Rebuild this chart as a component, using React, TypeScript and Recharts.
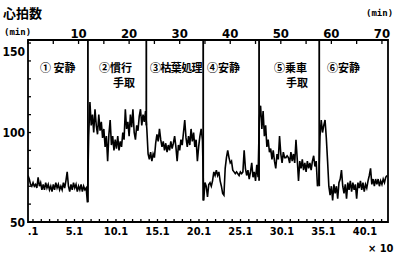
import React from 'react';
import { LineChart, Line, XAxis, YAxis, ReferenceLine, ReferenceArea } from 'recharts';

// heart rate samples, one every 0.25 min, per work section
const SAMPLE_STEP_MIN = 0.25;
const rest1HR = [76, 74, 71, 70, 72, 70, 71, 69, 75, 70, 72, 68, 71, 68, 72, 69, 71, 68, 70, 67, 71, 68, 72, 69, 71, 68, 70, 68, 72, 69, 73, 78, 70, 67, 71, 68, 72, 69, 71, 67, 70, 68, 71, 67, 70, 68, 69, 61];
const handPickHR = [98, 117, 104, 110, 100, 113, 104, 99, 110, 101, 106, 97, 102, 92, 98, 84, 99, 107, 93, 98, 90, 96, 91, 98, 90, 95, 92, 100, 96, 113, 102, 106, 98, 110, 103, 113, 100, 96, 104, 101, 109, 113, 104, 110, 106, 112];
const leafHR = [102, 88, 85, 89, 84, 88, 86, 94, 99, 95, 102, 96, 92, 95, 90, 94, 89, 93, 90, 95, 91, 94, 98, 92, 84, 93, 90, 96, 93, 100, 107, 97, 92, 98, 93, 102, 95, 100, 92, 96, 84, 92, 98, 102, 96];
const rest2HR = [62, 72, 70, 64, 71, 72, 70, 73, 78, 76, 79, 76, 78, 73, 70, 66, 65, 80, 86, 90, 86, 83, 84, 79, 78, 77, 78, 77, 76, 78, 77, 78, 90, 80, 76, 79, 74, 78, 83, 75, 78, 73, 82, 75];
const ridePickHR = [108, 115, 102, 112, 98, 104, 92, 96, 89, 91, 85, 90, 84, 80, 88, 85, 98, 88, 83, 89, 86, 86, 87, 86, 83, 89, 84, 88, 83, 96, 85, 73, 84, 80, 85, 79, 83, 78, 84, 80, 83, 79, 84, 87, 81, 84, 70];
const rest3HR = [72, 98, 107, 100, 104, 107, 97, 84, 70, 65, 70, 62, 71, 66, 70, 63, 72, 74, 79, 70, 66, 71, 63, 72, 68, 73, 67, 72, 68, 71, 63, 72, 69, 73, 68, 72, 67, 71, 69, 73, 76, 80, 71, 74, 70, 74, 71, 74, 70, 73, 71, 74, 72, 75, 76];

// section boundaries (min) and where the divider meets the trace (bpm)
const sectionBounds = [11.85, 23.4, 34.65, 45.7, 57.6];
const sectionBoundLow = [61, 104, 62, 73, 70];

// axes
const topTicks = [0, 5, 10, 15, 20, 25, 30, 35, 40, 45, 50, 55, 60, 65, 70];
const topLabels = [10, 20, 30, 40, 50, 60, 70];
const bottomTicks = [0.1, 1.1, 2.1, 3.1, 4.1, 5.1, 6.1, 7.1, 8.1, 9.1, 10.1, 11.1, 12.1, 13.1, 14.1, 15.1, 16.1, 17.1, 18.1, 19.1, 20.1, 21.1, 22.1, 23.1, 24.1, 25.1, 26.1, 27.1, 28.1, 29.1, 30.1, 31.1, 32.1, 33.1, 34.1, 35.1, 36.1, 37.1, 38.1, 39.1, 40.1, 41.1, 42.1];
const bottomLabels = ['.1', '5.1', '10.1', '15.1', '20.1', '25.1', '30.1', '35.1', '40.1'];
const yTicks = [50, 60, 70, 80, 90, 100, 110, 120, 130, 140, 150];
const yLabels = [50, 100, 150];

const heartRate = [...rest1HR, ...handPickHR, ...leafHR, ...rest2HR, ...ridePickHR, ...rest3HR];
const data = heartRate.map((hr, i) => ({ t: i * SAMPLE_STEP_MIN, hr }));

const TOP_DOMAIN: [number, number] = [0, 71.2];
const BOTTOM_DOMAIN: [number, number] = [-0.5, 42.87];
const Y_DOMAIN: [number, number] = [50, 151.7];

const PLOT_TOP = 40;
const PLOT_BOTTOM = 222;
const PLOT_LEFT = 28;

const numFont = "'Liberation Sans Narrow', 'DejaVu Sans Condensed', 'Liberation Sans', sans-serif";
const cjkFont = "'Noto Sans CJK JP', 'Noto Sans CJK SC', sans-serif";

const TopTick = (props: any) => {
  const { x, payload } = props;
  const v = payload.value;
  const show = topLabels.includes(v);
  return (
    <g>
      <line x1={x} y1={PLOT_TOP} x2={x} y2={PLOT_TOP + 4} stroke="#000" strokeWidth={1.3} />
      {show && (
        <text x={x} y={38} textAnchor="middle" fontSize={13} fontWeight="bold" fontFamily={numFont} fill="#000">
          {String(v)}
        </text>
      )}
    </g>
  );
};

const BottomTick = (props: any) => {
  const { x, payload } = props;
  const v = Number(payload.value);
  const idx = bottomTicks.indexOf(v);
  const label = idx % 5 === 0 ? bottomLabels[idx / 5] : '';
  return (
    <g>
      <line x1={x} y1={PLOT_BOTTOM} x2={x} y2={PLOT_BOTTOM - 3} stroke="#000" strokeWidth={1.3} />
      {label && (
        <text x={x} y={235} textAnchor="middle" fontSize={11} fontWeight="bold" fontFamily={numFont} fill="#000">
          {label}
        </text>
      )}
    </g>
  );
};

const LeftTick = (props: any) => {
  const { y, payload } = props;
  const v = payload.value;
  const show = yLabels.includes(v);
  return (
    <g>
      <line x1={PLOT_LEFT} y1={y} x2={PLOT_LEFT + 3} y2={y} stroke="#000" strokeWidth={1.3} />
      {show && (
        <text x={25} y={v === 150 ? y + 13 : y + 4.5} textAnchor="end" fontSize={12} fontWeight="bold" fontFamily={numFont} fill="#000">
          {String(v)}
        </text>
      )}
    </g>
  );
};

const labelStyle: React.CSSProperties = {
  position: 'absolute',
  fontFamily: cjkFont,
  fontWeight: 700,
  fontSize: 11,
  lineHeight: '11px',
  whiteSpace: 'nowrap',
  color: '#000',
};

const sectionLabels = [
  { text: '① 安静', left: 40, top: 62 },
  { text: '②慣行', left: 99, top: 62 },
  { text: '手取', left: 113, top: 77 },
  { text: '③枯葉処理', left: 150, top: 62, spacing: -0.6 },
  { text: '④安静', left: 207, top: 62 },
  { text: '⑤乗車', left: 274, top: 62 },
  { text: '手取', left: 286, top: 77 },
  { text: '⑥安静', left: 327, top: 62 },
];

export default function App() {
  return (
    <div style={{ position: 'absolute', left: 0, top: 0, width: 397, height: 255, background: '#fff' }}>
      <LineChart width={397} height={255} data={data} margin={{ top: 20, right: 9, bottom: 13, left: 0 }}>
        <XAxis
          xAxisId="top"
          orientation="top"
          dataKey="t"
          type="number"
          domain={TOP_DOMAIN}
          allowDataOverflow
          ticks={topTicks}
          interval={0}
          height={20}
          axisLine={false}
          tickLine={false}
          tick={<TopTick />}
        />
        <XAxis
          xAxisId="bottom"
          orientation="bottom"
          dataKey="t"
          type="number"
          domain={BOTTOM_DOMAIN}
          allowDataOverflow
          ticks={bottomTicks}
          interval={0}
          height={20}
          axisLine={false}
          tickLine={false}
          tick={<BottomTick />}
        />
        <YAxis
          yAxisId="hr"
          type="number"
          domain={Y_DOMAIN}
          allowDataOverflow
          ticks={yTicks}
          interval={0}
          width={28}
          axisLine={false}
          tickLine={false}
          tick={<LeftTick />}
        />
        <ReferenceArea
          xAxisId="top"
          yAxisId="hr"
          x1={TOP_DOMAIN[0]}
          x2={TOP_DOMAIN[1]}
          y1={Y_DOMAIN[0]}
          y2={Y_DOMAIN[1]}
          fill="none"
          fillOpacity={0}
          stroke="#000"
          strokeWidth={1.8}
          ifOverflow="visible"
        />
        {sectionBounds.map((b, i) => (
          <ReferenceLine
            key={i}
            xAxisId="top"
            yAxisId="hr"
            segment={[{ x: b, y: sectionBoundLow[i] }, { x: b, y: Y_DOMAIN[1] }]}
            stroke="#000"
            strokeWidth={1.8}
            ifOverflow="visible"
          />
        ))}
        <Line
          xAxisId="top"
          yAxisId="hr"
          dataKey="hr"
          type="linear"
          stroke="#000"
          strokeWidth={1.6}
          dot={false}
          isAnimationActive={false}
        />
      </LineChart>
      <div style={{ ...labelStyle, left: 3, top: 6, fontSize: 13, lineHeight: '13px' }}>心拍数</div>
      <div style={{ ...labelStyle, left: 4, top: 27, fontSize: 9, lineHeight: '10px', fontFamily: "'DejaVu Sans Mono', monospace" }}>(min)</div>
      <div style={{ ...labelStyle, left: 366, top: 8, fontSize: 9, lineHeight: '10px', fontFamily: "'DejaVu Sans Mono', monospace" }}>(min)</div>
      <div style={{ ...labelStyle, left: 368, top: 243, fontSize: 11, fontFamily: numFont }}>× 10</div>
      {sectionLabels.map((l, i) => (
        <div key={i} style={{ ...labelStyle, left: l.left, top: l.top, letterSpacing: l.spacing ?? 0 }}>
          {l.text}
        </div>
      ))}
    </div>
  );
}
